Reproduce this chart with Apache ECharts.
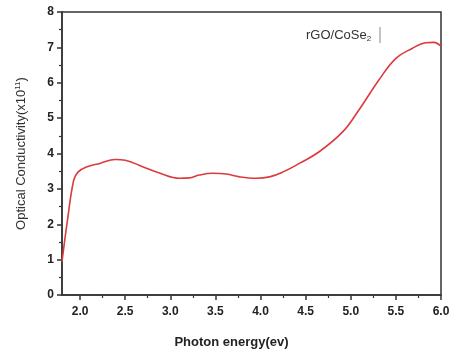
<!DOCTYPE html>
<html>
<head>
<meta charset="utf-8">
<script src="https://cdn.jsdelivr.net/npm/echarts@6/dist/echarts.min.js"></script>
<style>
  html, body { margin: 0; padding: 0; background: #fff; }
  #chart { width: 449px; height: 352px; }
</style>
</head>
<body>
<div id="chart"></div>
<script>
// photon energy (eV) and optical conductivity (x10^11)
const energy = [1.80, 1.86, 1.93, 1.98, 2.07, 2.22, 2.39, 2.50, 2.70, 2.88, 3.10, 3.21, 3.32, 3.47, 3.62, 3.77, 3.95, 4.10, 4.25, 4.43, 4.65, 4.91, 5.09, 5.31, 5.50, 5.68, 5.83, 5.92, 6.00];
const conductivity = [0.94, 2.10, 3.25, 3.48, 3.62, 3.72, 3.83, 3.81, 3.62, 3.45, 3.30, 3.31, 3.39, 3.44, 3.42, 3.34, 3.30, 3.34, 3.48, 3.72, 4.05, 4.61, 5.23, 6.07, 6.69, 6.97, 7.13, 7.14, 7.03];
const xMajorTicks = [2.0, 2.5, 3.0, 3.5, 4.0, 4.5, 5.0, 5.5, 6.0];
const xMinorTicks = [2.25, 2.75, 3.25, 3.75, 4.25, 4.75, 5.25, 5.75];
const seriesName = "rGO/CoSe2";

const axisColor = "#333";
const labelFont = "Liberation Sans, Arial, sans-serif";
const plotBox = { left: 62, right: 8, top: 12, bottom: 57, outerBoundsMode: "none", containLabel: false };

const chart = echarts.init(document.getElementById("chart"));
chart.setOption({
  animation: false,
  grid: [
    { ...plotBox, show: true, borderColor: axisColor, borderWidth: 1.5 },
    // overlay grid, only used to carry the minor x ticks
    { ...plotBox, show: false },
  ],
  title: {
    text: "rGO/CoSe{sub|2}",
    left: 306, top: 28,
    padding: 0,
    textStyle: {
      fontFamily: labelFont, fontSize: 13, fontWeight: "normal", color: "#333",
      rich: { sub: { fontFamily: labelFont, fontSize: 8, color: "#333", padding: [7, 0, 0, 0] } },
    },
  },
  graphic: [
    { type: "line", shape: { x1: 380, y1: 27, x2: 380, y2: 43 }, style: { stroke: "#888", lineWidth: 1 } },
  ],
  xAxis: [
    {
      type: "value", min: 1.8, max: 6.0, gridIndex: 0,
      name: "Photon energy(ev)", nameLocation: "middle", nameGap: 41,
      nameTextStyle: { fontFamily: labelFont, fontSize: 13, fontWeight: "bold", color: "#222", padding: [0, 40, 0, 0] },
      axisLine: { lineStyle: { color: axisColor, width: 1.5 } },
      axisTick: { customValues: xMajorTicks, length: 5, lineStyle: { color: axisColor, width: 1.5 } },
      axisLabel: {
        customValues: xMajorTicks, margin: 11,
        fontFamily: labelFont, fontSize: 12, fontWeight: "bold", color: "#222",
        formatter: (v) => v.toFixed(1),
      },
      splitLine: { show: false },
    },
    {
      type: "value", min: 1.8, max: 6.0, gridIndex: 1, position: "bottom",
      axisLine: { show: false },
      axisTick: { show: true, customValues: xMinorTicks, length: 3, lineStyle: { color: axisColor, width: 1.2 } },
      axisLabel: { show: false, customValues: xMinorTicks },
      splitLine: { show: false },
    },
  ],
  yAxis: [
    {
      type: "value", min: 0, max: 8, interval: 1, gridIndex: 0,
      name: "Optical Conductivity(x10{sup|11})", nameLocation: "middle", nameGap: 33,
      nameTextStyle: {
        fontFamily: labelFont, fontSize: 13, color: "#333",
        rich: { sup: { fontFamily: labelFont, fontSize: 8, color: "#333", padding: [0, 0, 7, 0] } },
      },
      axisLine: { lineStyle: { color: axisColor, width: 1.5 } },
      axisTick: { length: 5, lineStyle: { color: axisColor, width: 1.5 } },
      minorTick: { show: true, splitNumber: 2, length: 3, lineStyle: { color: axisColor, width: 1.2 } },
      axisLabel: { margin: 8, fontFamily: labelFont, fontSize: 12, fontWeight: "bold", color: "#222" },
      splitLine: { show: false },
    },
    { type: "value", min: 0, max: 8, gridIndex: 1, show: false },
  ],
  series: [
    {
      name: seriesName,
      type: "line",
      xAxisIndex: 0, yAxisIndex: 0,
      data: energy.map((e, i) => [e, conductivity[i]]),
      smooth: 0.4,
      showSymbol: false,
      lineStyle: { color: "#dc3a3e", width: 1.6 },
    },
  ],
});
</script>
</body>
</html>
